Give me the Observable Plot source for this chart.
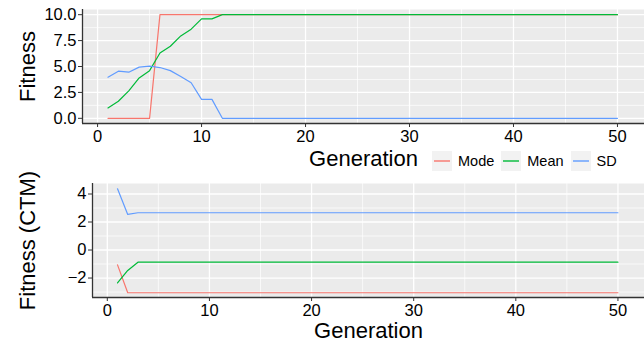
<!DOCTYPE html>
<html>
<head>
<meta charset="utf-8">
<script src="https://cdn.jsdelivr.net/npm/d3@7"></script>
<script src="https://cdn.jsdelivr.net/npm/@observablehq/plot@0.6"></script>
<style>
  html, body { margin: 0; padding: 0; background: white; }
  #wrap { position: relative; width: 644px; height: 344px; font-family: "Liberation Sans", Arial, sans-serif; }
  #wrap svg.plotsvg { position: absolute; left: 0; }
  .legend { position: absolute; left: 432px; top: 151px; display: flex; align-items: center; font-size: 14.5px; color: black; z-index: 2; }
  .legend .key { width: 20px; height: 20px; background: #F2F2F2; display: block; }
  .legend .lab { margin-left: 6px; margin-right: 7px; }
</style>
</head>
<body>
<div id="wrap"></div>
<script>
// ---- data ----
const seriesNames = ["Mode", "Mean", "SD"];
const seriesColors = ["#F8766D", "#00BA38", "#619CFF"];
const generations = [1,2,3,4,5,6,7,8,9,10,11,12,13,14,15,16,17,18,19,20,21,22,23,24,25,26,27,28,29,30,31,32,33,34,35,36,37,38,39,40,41,42,43,44,45,46,47,48,49,50];

const modeTop = [0,0,0,0,0, 10,10,10,10,10, 10,10,10,10,10, 10,10,10,10,10, 10,10,10,10,10, 10,10,10,10,10, 10,10,10,10,10, 10,10,10,10,10, 10,10,10,10,10, 10,10,10,10,10];
const meanTop = [1.0,1.65,2.65,3.9,4.6, 6.3,6.95,7.95,8.6,9.6, 9.6,10,10,10,10, 10,10,10,10,10, 10,10,10,10,10, 10,10,10,10,10, 10,10,10,10,10, 10,10,10,10,10, 10,10,10,10,10, 10,10,10,10,10];
const sdTop = [3.97,4.55,4.45,4.94,5.03, 4.9,4.6,4.04,3.43,1.83, 1.83,0,0,0,0, 0,0,0,0,0, 0,0,0,0,0, 0,0,0,0,0, 0,0,0,0,0, 0,0,0,0,0, 0,0,0,0,0, 0,0,0,0,0];

const modeCTM = [-1.06,-3.05,-3.05,-3.05,-3.05, -3.05,-3.05,-3.05,-3.05,-3.05, -3.05,-3.05,-3.05,-3.05,-3.05, -3.05,-3.05,-3.05,-3.05,-3.05, -3.05,-3.05,-3.05,-3.05,-3.05, -3.05,-3.05,-3.05,-3.05,-3.05, -3.05,-3.05,-3.05,-3.05,-3.05, -3.05,-3.05,-3.05,-3.05,-3.05, -3.05,-3.05,-3.05,-3.05,-3.05, -3.05,-3.05,-3.05,-3.05,-3.05];
const meanCTM = [-2.35,-1.46,-0.87,-0.87,-0.87, -0.87,-0.87,-0.87,-0.87,-0.87, -0.87,-0.87,-0.87,-0.87,-0.87, -0.87,-0.87,-0.87,-0.87,-0.87, -0.87,-0.87,-0.87,-0.87,-0.87, -0.87,-0.87,-0.87,-0.87,-0.87, -0.87,-0.87,-0.87,-0.87,-0.87, -0.87,-0.87,-0.87,-0.87,-0.87, -0.87,-0.87,-0.87,-0.87,-0.87, -0.87,-0.87,-0.87,-0.87,-0.87];
const sdCTM = [4.37,2.54,2.66,2.66,2.66, 2.66,2.66,2.66,2.66,2.66, 2.66,2.66,2.66,2.66,2.66, 2.66,2.66,2.66,2.66,2.66, 2.66,2.66,2.66,2.66,2.66, 2.66,2.66,2.66,2.66,2.66, 2.66,2.66,2.66,2.66,2.66, 2.66,2.66,2.66,2.66,2.66, 2.66,2.66,2.66,2.66,2.66, 2.66,2.66,2.66,2.66,2.66];

const xMajor = [0, 10, 20, 30, 40, 50];
const xMinor = [5, 15, 25, 35, 45];
const yTopMajor = [0, 2.5, 5, 7.5, 10];
const yTopMinor = [1.25, 3.75, 6.25, 8.75];
const yBotMajor = [-2, 0, 2, 4];
const yBotMinor = [-3, -1, 1, 3];

const xTitle = "Generation";
const yTopTitle = "Fitness";
const yBotTitle = "Fitness (CTM)";

// ---- build tidy tables ----
function tidy(arrs) {
  const rows = [];
  arrs.forEach((arr, s) => arr.forEach((v, i) => rows.push({gen: generations[i], value: v, series: seriesNames[s]})));
  return rows;
}
const topRows = tidy([modeTop, meanTop, sdTop]);
const botRows = tidy([modeCTM, meanCTM, sdCTM]);

const FONT = "'Liberation Sans', Arial, sans-serif";
const AX = "#333333";

function panel({rows, yDomain, yMajor, yMinor, yFmt, yTitle, height, mTop, mBottom, mLeft, yTitleDx, xTitleDy}) {
  const xDomain = [-1.45, 52.6];
  return Plot.plot({
    width: 644, height,
    marginLeft: mLeft, marginRight: 0, marginTop: mTop, marginBottom: mBottom,
    style: {fontFamily: FONT, color: "black", background: "transparent", overflow: "visible"},
    x: {domain: xDomain, label: null},
    y: {domain: yDomain, label: null},
    color: {domain: seriesNames, range: seriesColors},
    marks: [
      Plot.frame({fill: "#EBEBEB", stroke: null}),
      Plot.gridX(xMinor, {stroke: "white", strokeOpacity: 1, strokeWidth: 0.7}),
      Plot.gridY(yMinor, {stroke: "white", strokeOpacity: 1, strokeWidth: 0.7}),
      Plot.gridX(xMajor, {stroke: "white", strokeOpacity: 1, strokeWidth: 1.3}),
      Plot.gridY(yMajor, {stroke: "white", strokeOpacity: 1, strokeWidth: 1.3}),
      Plot.line(rows, {x: "gen", y: "value", z: "series", stroke: "series", strokeWidth: 1.2}),
      Plot.ruleX([xDomain[0]], {stroke: AX, strokeWidth: 1.3}),
      Plot.ruleY([yDomain[0]], {stroke: AX, strokeWidth: 1.3}),
      Plot.axisX(xMajor, {tickSize: 4, tickPadding: 3, fontSize: 16.5, stroke: AX, fill: "black", label: null}),
      Plot.axisY(yMajor, {tickSize: 4, tickPadding: 2, fontSize: 16.5, stroke: AX, fill: "black", label: null, tickFormat: yFmt}),
      Plot.text([xTitle], {text: d => d, frameAnchor: "bottom", lineAnchor: "middle", textAnchor: "middle", dy: xTitleDy, fontSize: 22, fill: "black"}),
      Plot.text([yTitle], {text: d => d, frameAnchor: "left", lineAnchor: "middle", textAnchor: "middle", dx: yTitleDx, rotate: -90, fontSize: 22, fill: "black"})
    ]
  });
}

const wrap = document.getElementById("wrap");

const topPlot = panel({
  rows: topRows, yDomain: [-0.5, 10.5], yMajor: yTopMajor, yMinor: yTopMinor,
  yFmt: d3.format(".1f"), yTitle: yTopTitle, height: 170, mTop: 9, mBottom: 47, mLeft: 82,
  yTitleDx: -55, xTitleDy: 35
});
topPlot.classList.add("plotsvg");
topPlot.style.top = "0px";
wrap.appendChild(topPlot);

const botPlot = panel({
  rows: botRows, yDomain: [-3.39, 4.75], yMajor: yBotMajor, yMinor: yBotMinor,
  yFmt: d3.format("d"), yTitle: yBotTitle, height: 174, mTop: 13, mBottom: 47, mLeft: 92,
  yTitleDx: -65, xTitleDy: 33
});
botPlot.classList.add("plotsvg");
botPlot.style.top = "170px";
wrap.appendChild(botPlot);

// ---- legend ----
const leg = document.createElement("div");
leg.className = "legend";
seriesNames.forEach((name, i) => {
  const key = document.createElementNS("http://www.w3.org/2000/svg", "svg");
  key.setAttribute("width", 20); key.setAttribute("height", 20);
  key.setAttribute("class", "key");
  const ln = document.createElementNS("http://www.w3.org/2000/svg", "line");
  ln.setAttribute("x1", 2); ln.setAttribute("x2", 18);
  ln.setAttribute("y1", 10); ln.setAttribute("y2", 10);
  ln.setAttribute("stroke", seriesColors[i]); ln.setAttribute("stroke-width", 1.4);
  key.appendChild(ln);
  const lab = document.createElement("span");
  lab.className = "lab"; lab.textContent = name;
  leg.appendChild(key); leg.appendChild(lab);
});
wrap.appendChild(leg);
</script>
</body>
</html>
